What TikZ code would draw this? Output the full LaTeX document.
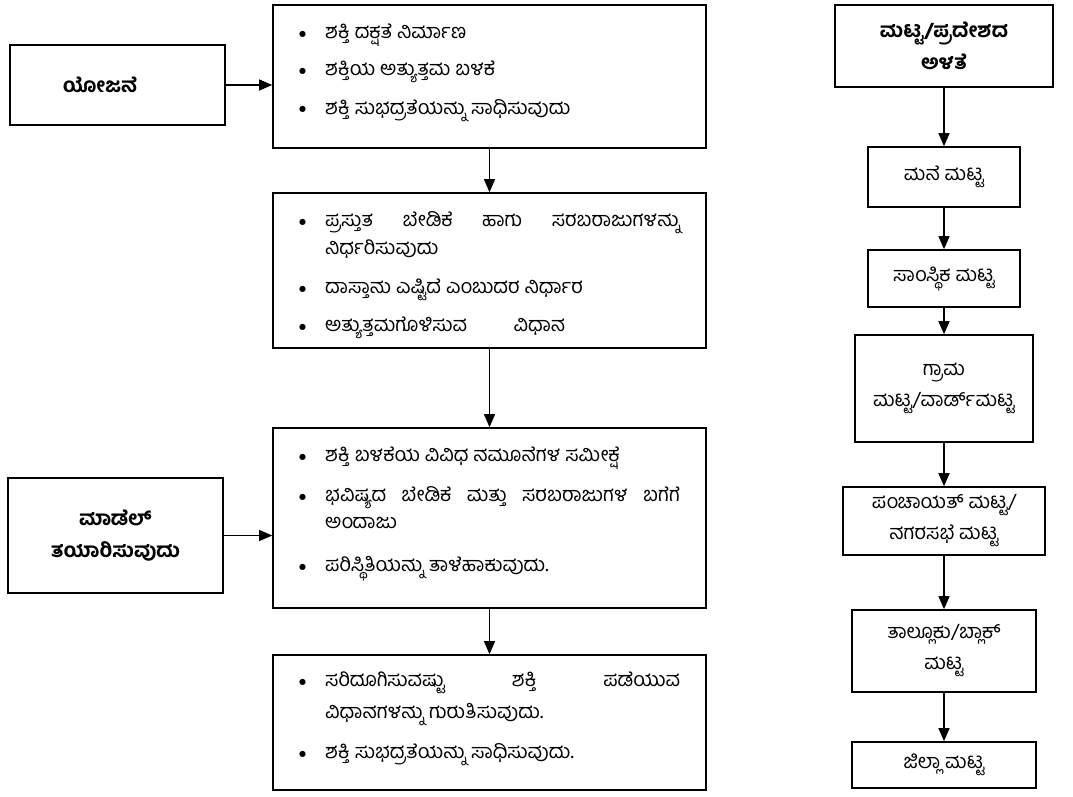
\documentclass[tikz,border=0pt]{standalone}
\usepackage{fontspec}
\newfontfamily\kn[Script=Kannada]{Hind Mysuru}
\newfontfamily\knb[Script=Kannada]{Hind Mysuru Bold}
\newfontfamily\dv{DejaVu Sans}
\usetikzlibrary{arrows.meta,fit}
\newcommand{\bul}{\llap{\raisebox{2pt}{\dv\fontsize{8}{8}\selectfont ●}\hspace{19pt}}}
\begin{document}
\begin{tikzpicture}[x=1pt,y=-1pt,
  box/.style={draw, line width=1.6pt, inner sep=0pt},
  arr/.style={-{Triangle[length=13pt,width=11pt]}, line width=1.2pt},
  ln/.style={anchor=base west, inner sep=0pt, font=\kn\fontsize{20}{24}\selectfont},
  lbl/.style={inner sep=0pt, align=center, font=\knb\fontsize{20}{32}\selectfont},
  rlb/.style={inner sep=0pt, align=center, font=\kn\fontsize{20}{31}\selectfont}]
\useasboundingbox (0,0) rectangle (1073,797);
\fill[white] (0,0) rectangle (1073,797);

% left boxes
\node[box, fit={(10,45) (225,125)}] (a1) {};
\node[lbl] (ta1) at (100,85) {ಯೋಜನೆ};
\node[box, fit={(8,478) (223,593)}] (a2) {};
\node[lbl] (ta2) at (a2) {ಮಾಡೆಲ್\\ತಯಾರಿಸುವುದು};

% centre boxes
\node[box, fit={(273,5) (706,148)}] (b1) {};
\node[box, fit={(273,193) (706,348)}] (b2) {};
\node[box, fit={(273,428) (706,608)}] (b3) {};
\node[box, fit={(273,655) (706,790)}] (b4) {};

\node[ln] (l11) at (325,39) {\bul ಶಕ್ತಿ ದಕ್ಷತೆ ನಿರ್ಮಾಣ};
\node[ln] (l12) at (325,76) {\bul ಶಕ್ತಿಯ ಅತ್ಯುತ್ತಮ ಬಳಕೆ};
\node[ln] (l13) at (325,114) {\bul ಶಕ್ತಿ ಸುಭದ್ರತೆಯನ್ನು ಸಾಧಿಸುವುದು};

\node[ln] (l21) at (325,226) {\bul\makebox[355pt][s]{ಪ್ರಸ್ತುತ ಬೇಡಿಕೆ ಹಾಗು ಸರಬರಾಜುಗಳನ್ನು}};
\node[ln] (l22) at (325,254) {ನಿರ್ಧರಿಸುವುದು};
\node[ln] (l23) at (325,293) {\bul ದಾಸ್ತಾನು ಎಷ್ಟಿದೆ ಎಂಬುದರ ನಿರ್ಧಾರ};
\node[ln] (l24) at (325,331) {\bul\makebox[240pt][s]{ಅತ್ಯುತ್ತಮಗೊಳಿಸುವ ವಿಧಾನ}};

\node[ln] (l31) at (325,461) {\bul ಶಕ್ತಿ ಬಳಕೆಯ ವಿವಿಧ ನಮೂನೆಗಳ ಸಮೀಕ್ಷೆ};
\node[ln] (l32) at (325,501) {\bul\makebox[355pt][s]{ಭವಿಷ್ಯದ ಬೇಡಿಕೆ ಮತ್ತು ಸರಬರಾಜುಗಳ ಬಗೆಗೆ}};
\node[ln] (l33) at (325,528) {ಅಂದಾಜು};
\node[ln] (l34) at (325,571) {\bul ಪರಿಸ್ಥಿತಿಯನ್ನು ತಾಳೆಹಾಕುವುದು.};

\node[ln] (l41) at (325,686) {\bul\makebox[355pt][s]{ಸರಿದೂಗಿಸುವಷ್ಟು ಶಕ್ತಿ ಪಡೆಯುವ}};
\node[ln] (l42) at (325,718) {ವಿಧಾನಗಳನ್ನು ಗುರುತಿಸುವುದು.};
\node[ln] (l43) at (325,758) {\bul ಶಕ್ತಿ ಸುಭದ್ರತೆಯನ್ನು ಸಾಧಿಸುವುದು.};

% right column
\node[box, fit={(835,5) (1053,87)}] (r0) {};
\node[lbl] (tr0) at (r0) {ಮಟ್ಟ/ಪ್ರದೇಶದ\\ಅಳತೆ};
\node[box, fit={(868,147) (1020,207)}] (r1) {};
\node[rlb] (tr1) at (r1) {ಮನೆ ಮಟ್ಟ};
\node[box, fit={(868,250) (1020,307)}] (r2) {};
\node[rlb] (tr2) at (r2) {ಸಾಂಸ್ಥಿಕ ಮಟ್ಟ};
\node[box, fit={(855,335) (1033,442)}] (r3) {};
\node[rlb] (tr3) at (r3) {ಗ್ರಾಮ\\ಮಟ್ಟ/ವಾರ್ಡ್‌ಮಟ್ಟ};
\node[box, fit={(843,487) (1045,555)}] (r4) {};
\node[rlb] (tr4) at (r4) {ಪಂಚಾಯತ್ ಮಟ್ಟ/\\ನಗರಸಭೆ ಮಟ್ಟ};
\node[box, fit={(852,610) (1036,692)}] (r5) {};
\node[rlb] (tr5) at (r5) {ತಾಲ್ಲೂಕು/ಬ್ಲಾಕ್\\ಮಟ್ಟ};
\node[box, fit={(852,742) (1036,788)}] (r6) {};
\node[rlb] (tr6) at (r6) {ಜಿಲ್ಲಾ ಮಟ್ಟ};

% connectors
\draw[arr] (a1.east) -- (a1.east -| b1.west);
\draw[arr] (a2.east) -- (a2.east -| b3.west);
\draw[arr] (b1.south) -- (b2.north);
\draw[arr] (b2.south) -- (b3.north);
\draw[arr] (b3.south) -- (b4.north);
\draw[arr] (r0.south) -- (r1.north);
\draw[arr] (r1.south) -- (r2.north);
\draw[arr] (r2.south) -- (r3.north);
\draw[arr] (r3.south) -- (r4.north);
\draw[arr] (r4.south) -- (r5.north);
\draw[arr] (r5.south) -- (r6.north);
\end{tikzpicture}
\end{document}
